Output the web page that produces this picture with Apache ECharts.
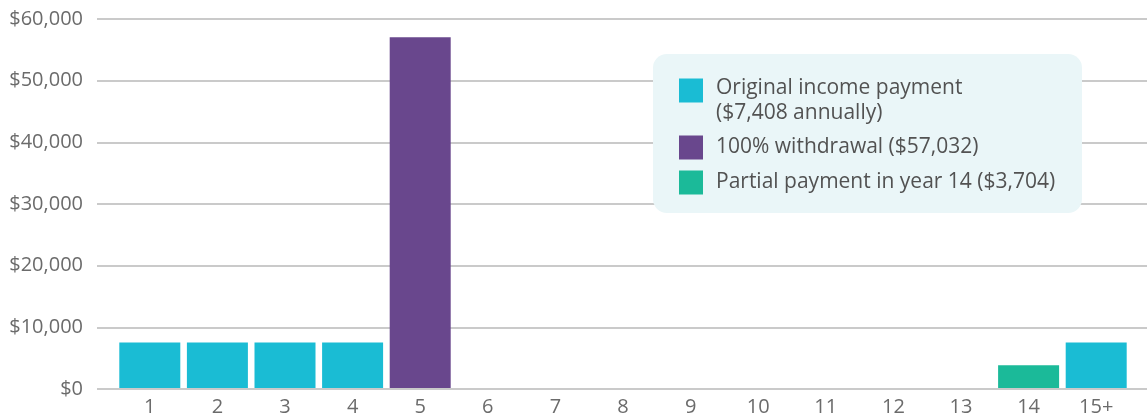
<!DOCTYPE html>
<html>
<head>
<meta charset="utf-8">
<script src="https://cdn.jsdelivr.net/npm/echarts@6/dist/echarts.min.js"></script>
<style>
html,body{margin:0;padding:0;background:#fff;}
#chart{width:1147px;height:417px;}
</style>
</head>
<body>
<div id="chart"></div>
<script>
const categories = ['1','2','3','4','5','6','7','8','9','10','11','12','13','14','15+'];
const originalIncome = [7408,7408,7408,7408,null,null,null,null,null,null,null,null,null,null,7408];
const withdrawal = [null,null,null,null,57032,null,null,null,null,null,null,null,null,null,null];
const partialPayment = [null,null,null,null,null,null,null,null,null,null,null,null,null,3704,null];
const seriesNames = ['Original income payment\n($7,408 annually)','100% withdrawal ($57,032)','Partial payment in year 14 ($3,704)'];
const yTicks = [0,10000,20000,30000,40000,50000,60000];

const FONT = '"Open Sans", sans-serif';
const TEXT = {color: '#525252', fontSize: 21, fontFamily: FONT, verticalAlign: 'middle'};
const chart = echarts.init(document.getElementById('chart'));
const fmt = v => '$' + v.toLocaleString('en-US');
chart.setOption({
  animation: false,
  textStyle: {fontFamily: FONT},
  grid: [
    {left: 97, right: 0, top: 19, bottom: 28},
    {left: 116, right: 17, top: 19, bottom: 28}
  ],
  graphic: [{
    type: 'rect', z: 3, silent: true,
    shape: {x: 653, y: 54, width: 429, height: 159, r: 14},
    style: {fill: '#eaf6f8'}
  }],
  xAxis: [
    {type: 'value', gridIndex: 0, show: false, min: 0, max: 1},
    {type: 'category', gridIndex: 1, data: categories,
     axisLine: {show: false}, axisTick: {show: false},
     axisLabel: {color: '#6b6b6b', fontSize: 20, margin: 9, fontFamily: FONT}}
  ],
  yAxis: [
    {type: 'value', gridIndex: 0, min: yTicks[0], max: yTicks[yTicks.length-1], interval: 10000,
     axisLine: {show: false}, axisTick: {show: false},
     axisLabel: {color: '#6b6b6b', fontSize: 20, margin: 14, formatter: fmt, fontFamily: FONT},
     splitLine: {lineStyle: {color: '#b8b8b8', width: 1.5}}},
    {type: 'value', gridIndex: 1, min: yTicks[0], max: yTicks[yTicks.length-1], interval: 10000, show: false,
     splitLine: {show: false}}
  ],
  legend: {
    orient: 'vertical', left: 653, top: 37, z: 5,
    padding: [1.5, 26, 18.5, 26],
    itemWidth: 24, itemHeight: 24, itemGap: 10,
    icon: 'rect',
    formatter: function (name) {
      if (name.indexOf('\n') >= 0) {
        const parts = name.split('\n');
        return '{a|' + parts[0] + '}\n{b|' + parts[1] + '}';
      }
      return name;
    },
    textStyle: Object.assign({}, TEXT, {
      lineHeight: 25,
      padding: [0, 0, 0, 8],
      rich: {
        a: Object.assign({}, TEXT, {lineHeight: 25, padding: [39, 0, 0, 0]}),
        b: Object.assign({}, TEXT, {lineHeight: 44, padding: [20, 0, 0, 0]})
      }
    }),
    data: seriesNames
  },
  series: [
    {name: seriesNames[0], type: 'bar', xAxisIndex: 1, yAxisIndex: 1, stack: 'a', barWidth: 61, data: originalIncome, itemStyle: {color: '#1abcd4'}},
    {name: seriesNames[1], type: 'bar', xAxisIndex: 1, yAxisIndex: 1, stack: 'a', barWidth: 61, data: withdrawal, itemStyle: {color: '#69478d'}},
    {name: seriesNames[2], type: 'bar', xAxisIndex: 1, yAxisIndex: 1, stack: 'a', barWidth: 61, data: partialPayment, itemStyle: {color: '#1bba99'}}
  ]
});
</script>
</body>
</html>
